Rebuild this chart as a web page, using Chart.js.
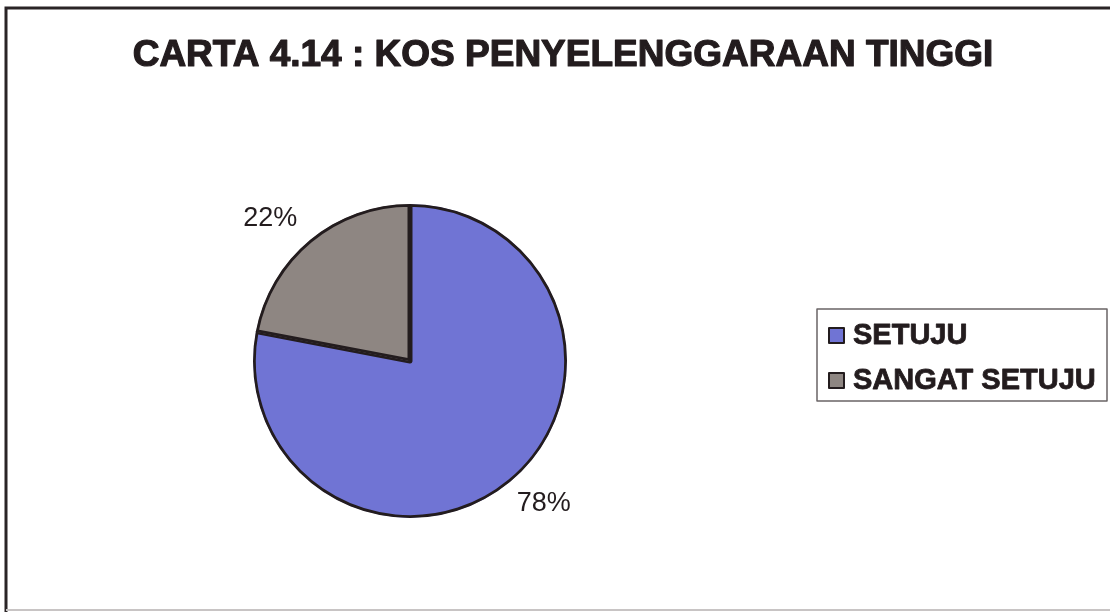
<!DOCTYPE html>
<html>
<head>
<meta charset="utf-8">
<script src="https://cdn.jsdelivr.net/npm/chart.js@4"></script>
<style>
  html, body { margin: 0; padding: 0; background: #fff; }
  #wrap { width: 1110px; height: 614px; position: relative; }
</style>
</head>
<body>
<div id="wrap"><canvas id="pie"></canvas></div>
<script>
const title = 'CARTA 4.14 : KOS PENYELENGGARAAN TINGGI';
const categories = ['SETUJU', 'SANGAT SETUJU'];
const percentages = [78, 22];
const sliceColors = ['#7074d4', '#8e8682'];

const ink = '#231c1e';

// frame, title, legend box and outside-end percentage labels
const decorations = {
  id: 'decorations',
  afterDraw(chart) {
    const ctx = chart.ctx;
    ctx.save();

    // outer frame
    ctx.strokeStyle = '#2a2426';
    ctx.lineWidth = 3;
    ctx.beginPath();
    ctx.moveTo(6, 612);
    ctx.lineTo(6, 8);
    ctx.lineTo(1112, 8);
    ctx.stroke();
    ctx.strokeStyle = '#c8c4c4';
    ctx.lineWidth = 2;
    ctx.beginPath();
    ctx.moveTo(6, 610);
    ctx.lineTo(1112, 610);
    ctx.stroke();

    // title (slight stroke to mimic the heavier face)
    ctx.fillStyle = ink;
    ctx.strokeStyle = ink;
    ctx.lineWidth = 1.2;
    ctx.lineJoin = 'round';
    ctx.font = 'bold 37px "Liberation Sans", Arial, sans-serif';
    ctx.textAlign = 'center';
    ctx.textBaseline = 'middle';
    ctx.fillText(title, 563, 56);
    ctx.strokeText(title, 563, 56);

    // percentage labels
    const meta = chart.getDatasetMeta(0);
    ctx.font = '27px "Liberation Sans", Arial, sans-serif';
    meta.data.forEach((arc, i) => {
      const mid = (arc.startAngle + arc.endAngle) / 2;
      const d = arc.outerRadius + 15;
      const x = arc.x + Math.cos(mid) * d;
      const y = arc.y + Math.sin(mid) * d;
      ctx.textAlign = Math.cos(mid) >= 0 ? 'left' : 'right';
      ctx.textBaseline = Math.sin(mid) >= 0 ? 'top' : 'bottom';
      ctx.fillText(percentages[i] + '%', x + (Math.cos(mid) >= 0 ? -3 : -3), y + (Math.sin(mid) >= 0 ? -3 : 4));
    });

    // legend
    ctx.strokeStyle = '#6a6466';
    ctx.lineWidth = 1.5;
    ctx.strokeRect(817, 309, 290, 92);
    ctx.font = 'bold 29px "Liberation Sans", Arial, sans-serif';
    ctx.textAlign = 'left';
    ctx.textBaseline = 'middle';
    categories.forEach((label, i) => {
      const cy = 335 + i * 45;
      ctx.fillStyle = sliceColors[i];
      ctx.fillRect(829, cy - 7, 15, 15);
      ctx.strokeStyle = ink;
      ctx.lineWidth = 2;
      ctx.strokeRect(829, cy - 7, 15, 15);
      ctx.fillStyle = ink;
      ctx.lineWidth = 0.8;
      ctx.fillText(label, 853, cy + 1);
      ctx.strokeText(label, 853, cy + 1);
    });

    ctx.restore();
  }
};

new Chart(document.getElementById('pie'), {
  type: 'pie',
  data: {
    labels: categories,
    datasets: [{
      data: percentages,
      backgroundColor: sliceColors,
      borderColor: ink,
      borderWidth: 2.5,
      borderAlign: 'inner'
    }]
  },
  options: {
    responsive: true,
    maintainAspectRatio: false,
    animation: false,
    layout: { padding: { left: 253, right: 543, top: 204, bottom: 96 } },
    plugins: {
      legend: { display: false },
      title: { display: false },
      tooltip: { enabled: false }
    }
  },
  plugins: [decorations]
});
</script>
</body>
</html>
